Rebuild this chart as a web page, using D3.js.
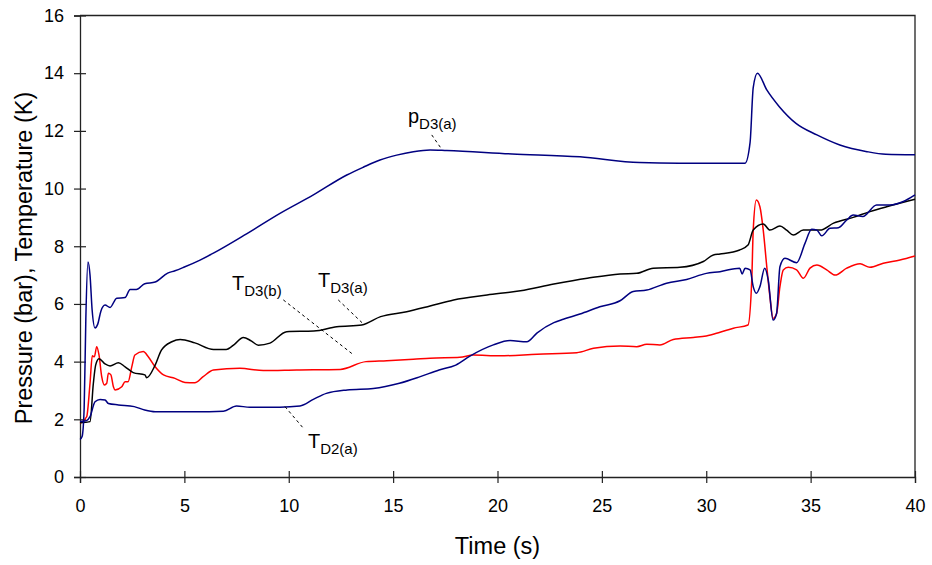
<!DOCTYPE html>
<html>
<head>
<meta charset="utf-8">
<script src="https://cdn.jsdelivr.net/npm/d3@7"></script>
<style>
  html, body { margin: 0; padding: 0; background: #fff; }
  svg text { font-family: Arial, "Liberation Sans", sans-serif; fill: #000; }
</style>
</head>
<body>
<svg id="chart" width="932" height="565"></svg>
<script>
// ==========================================================================
// DATA (time in s, value in bar / K)
// ==========================================================================

const xTicks = [0, 5, 10, 15, 20, 25, 30, 35, 40];
const yTicks = [0, 2, 4, 6, 8, 10, 12, 14, 16];

// pressure p_D3(a)
const pD3a = [
  [0, 1.3], [0.1, 1.4], [0.2, 2.4], [0.28, 5.5], [0.38, 7.45], [0.48, 7.0], [0.58, 5.8],
  [0.72, 5.17], [0.85, 5.3], [1.0, 5.75], [1.2, 5.96], [1.44, 5.88], [1.76, 6.2], [2.16, 6.22],
  [2.4, 6.5], [2.7, 6.5], [3.1, 6.7], [3.6, 6.76], [4.2, 7.07], [4.55, 7.15], [5.0, 7.28],
  [5.75, 7.52], [6.39, 7.76], [7.98, 8.43], [9.58, 9.14], [11.18, 9.78], [12.78, 10.47],
  [13.57, 10.74], [14.37, 10.99], [15.17, 11.16], [15.97, 11.28], [16.77, 11.34], [17.57, 11.32],
  [20.7, 11.2], [23.95, 11.1], [26.8, 10.9], [28.7, 10.88], [31.86, 10.88], [32.1, 11.6],
  [32.25, 13.5], [32.45, 14.0], [32.9, 13.42], [33.5, 12.84], [34.3, 12.26], [35.3, 11.86],
  [36.4, 11.51], [37.7, 11.28], [38.6, 11.19], [40, 11.17]
];

// temperature T_D2(a)
const tD2a = [
  [0, 1.92], [0.3, 1.95], [0.48, 2.09], [0.72, 2.61], [0.96, 2.69], [1.2, 2.67], [1.36, 2.55],
  [1.84, 2.5], [2.6, 2.44], [3.1, 2.32], [3.6, 2.26], [4.8, 2.26], [5.5, 2.26], [6.87, 2.28],
  [7.5, 2.46], [8.14, 2.42], [9.58, 2.42], [10.54, 2.46], [11.2, 2.7], [11.8, 2.9], [12.8, 3.02],
  [14.05, 3.07], [15.3, 3.25], [16.3, 3.48], [17.2, 3.71], [18.0, 3.88], [18.7, 4.2], [19.8, 4.58],
  [20.6, 4.73], [21.4, 4.69], [21.9, 5.0], [22.7, 5.35], [23.15, 5.47], [23.95, 5.65], [24.9, 5.9],
  [25.87, 6.11], [26.5, 6.43], [27.15, 6.48], [28.1, 6.72], [29.06, 6.85], [30.0, 7.06],
  [30.66, 7.12], [31.6, 7.24], [31.72, 7.04], [31.86, 7.24], [32.1, 7.18], [32.25, 6.6],
  [32.4, 6.37], [32.57, 6.6], [32.8, 7.24], [32.97, 6.83], [33.2, 5.44], [33.37, 5.67],
  [33.53, 7.29], [33.77, 7.58], [34.33, 7.43], [34.73, 8.1], [35.05, 8.59], [35.3, 8.56],
  [35.53, 8.36], [35.93, 8.62], [36.33, 8.64], [36.73, 8.91], [37.04, 9.08], [37.5, 9.03],
  [38.16, 9.43], [38.8, 9.43], [39.44, 9.55], [40, 9.78]
];

// temperature T_D3(a)
const tD3a = [
  [0, 1.88], [0.48, 1.92], [0.64, 3.25], [0.75, 3.88], [0.91, 4.1], [1.2, 3.92], [1.44, 3.85],
  [1.84, 3.96], [2.16, 3.82], [2.55, 3.62], [3.11, 3.54], [3.19, 3.44], [3.6, 3.88], [3.9, 4.4],
  [4.4, 4.69], [4.8, 4.77], [5.5, 4.65], [6.4, 4.42], [7.0, 4.42], [7.4, 4.6], [7.82, 4.84],
  [8.2, 4.72], [8.54, 4.57], [9.1, 4.64], [9.9, 5.04], [11.2, 5.06], [12.3, 5.21], [13.5, 5.27],
  [14.4, 5.56], [15.65, 5.73], [16.77, 5.93], [17.9, 6.14], [19.5, 6.31], [21.1, 6.46],
  [22.7, 6.69], [24.3, 6.89], [25.87, 7.04], [26.67, 7.06], [27.46, 7.24], [28.74, 7.27],
  [29.86, 7.47], [30.34, 7.7], [30.66, 7.73], [31.6, 7.87], [32.0, 8.04], [32.25, 8.56],
  [32.73, 8.77], [33.05, 8.56], [33.53, 8.7], [33.85, 8.56], [34.17, 8.39], [34.65, 8.56],
  [35.45, 8.56], [36.1, 8.8], [37.04, 9.0], [37.84, 9.2], [38.64, 9.37], [40, 9.63]
];

// temperature T_D3(b)
const tD3b = [
  [0, 1.86], [0.32, 2.09], [0.48, 3.25], [0.59, 4.2], [0.69, 4.17], [0.8, 4.52], [0.91, 4.23],
  [1.04, 3.48], [1.17, 3.19], [1.28, 3.25], [1.36, 3.6], [1.48, 3.54], [1.6, 3.13], [1.68, 3.02],
  [2.0, 3.13], [2.16, 3.3], [2.3, 3.3], [2.48, 3.82], [2.63, 4.23], [3.03, 4.35], [3.27, 4.17],
  [3.6, 3.82], [4.0, 3.54], [4.55, 3.42], [5.03, 3.28], [5.5, 3.27], [5.9, 3.48], [6.39, 3.71],
  [7.66, 3.77], [8.78, 3.69], [10.38, 3.71], [12.46, 3.73], [13.7, 4.0], [14.7, 4.03],
  [15.97, 4.08], [16.77, 4.12], [18.2, 4.15], [18.84, 4.23], [20.1, 4.2], [21.9, 4.26],
  [23.8, 4.31], [24.6, 4.46], [25.87, 4.54], [26.67, 4.52], [27.15, 4.6], [27.78, 4.58],
  [28.42, 4.77], [29.38, 4.84], [30.0, 4.89], [30.66, 5.02], [31.3, 5.16], [32.0, 5.27],
  [32.18, 6.83], [32.25, 8.56], [32.4, 9.6], [32.57, 9.37], [32.73, 8.56], [32.9, 7.29],
  [33.05, 6.25], [33.2, 5.5], [33.37, 5.67], [33.53, 6.6], [33.69, 7.18], [33.93, 7.27],
  [34.33, 7.18], [34.65, 6.89], [34.97, 7.24], [35.3, 7.35], [35.77, 7.18], [36.17, 7.0],
  [36.73, 7.24], [37.37, 7.39], [37.84, 7.27], [38.48, 7.41], [39.28, 7.52], [40, 7.66]
];

// curve labels: main letter, subscript, anchor (data coords), leader start/end
const curveLabels = [
  { main: 'p', sub: 'D3(a)', at: [15.71, 12.28], lead: [[16.85, 11.86], [17.33, 11.36]] },
  { main: 'T', sub: 'D3(b)', at: [7.28, 6.48], lead: [[9.74, 6.14], [13.06, 4.26]] },
  { main: 'T', sub: 'D3(a)', at: [11.4, 6.58], lead: [[12.37, 6.14], [13.54, 5.33]] },
  { main: 'T', sub: 'D2(a)', at: [10.92, 1.0], lead: [[9.82, 2.44], [10.7, 1.69]] }
];

// ==========================================================================
// DRAWING
// ==========================================================================

const svg = d3.select('#chart');
const margin = { top: 15.5, right: 17, bottom: 88, left: 80 };
const width = 932, height = 565;
const innerW = width - margin.left - margin.right;
const innerH = height - margin.top - margin.bottom;

const x = d3.scaleLinear().domain([0, 40]).range([0, innerW]);
const y = d3.scaleLinear().domain([0, 16]).range([innerH, 0]);

const g = svg.append('g').attr('transform', `translate(${margin.left},${margin.top})`);

// frame (top + right)
g.append('path')
  .attr('d', `M0,0H${innerW}V${innerH}`)
  .attr('fill', 'none').attr('stroke', '#222').attr('stroke-width', 1.3);

// axes with ticks crossing the line
const xAxis = g.append('g')
  .attr('transform', `translate(0,${innerH})`)
  .call(d3.axisBottom(x).tickValues(xTicks).tickSize(6).tickPadding(16));
xAxis.selectAll('.tick line').attr('y1', -6);

const yAxis = g.append('g')
  .call(d3.axisLeft(y).tickValues(yTicks).tickSize(6).tickPadding(10));
yAxis.selectAll('.tick line').attr('x1', 6);

[xAxis, yAxis].forEach(ax => {
  ax.select('.domain').attr('stroke', '#222').attr('stroke-width', 1.3);
  ax.selectAll('.tick line').attr('stroke', '#222').attr('stroke-width', 1.2);
  ax.selectAll('text')
    .style('font-family', 'Arial, "Liberation Sans", sans-serif')
    .style('font-size', '18px').attr('fill', '#000');
});

// series
const line = d3.line()
  .x(d => x(d[0]))
  .y(d => y(d[1]))
  .curve(d3.curveMonotoneX);

const series = [
  { data: tD3b, color: '#ff0000' },
  { data: tD3a, color: '#000000' },
  { data: tD2a, color: '#000080' },
  { data: pD3a, color: '#000080' }
];

g.selectAll('.series')
  .data(series)
  .enter().append('path')
  .attr('class', 'series')
  .attr('d', d => line(d.data))
  .attr('fill', 'none')
  .attr('stroke', d => d.color)
  .attr('stroke-width', 1.5)
  .attr('stroke-linejoin', 'round');

// curve labels with dashed leaders
curveLabels.forEach(l => {
  g.append('line')
    .attr('x1', x(l.lead[0][0])).attr('y1', y(l.lead[0][1]))
    .attr('x2', x(l.lead[1][0])).attr('y2', y(l.lead[1][1]))
    .attr('stroke', '#000').attr('stroke-width', 1)
    .attr('stroke-dasharray', '3,3');

  const t = g.append('text')
    .attr('x', x(l.at[0])).attr('y', y(l.at[1]))
    .style('font-size', '20px');
  t.append('tspan').text(l.main);
  t.append('tspan').attr('dy', 6).style('font-size', '15px').text(l.sub);
});

// axis titles
svg.append('text')
  .attr('x', margin.left + innerW / 2).attr('y', 554)
  .attr('text-anchor', 'middle')
  .style('font-size', '23.5px')
  .text('Time (s)');

svg.append('text')
  .attr('transform', 'translate(32,258) rotate(-90)')
  .attr('text-anchor', 'middle')
  .style('font-size', '23.5px')
  .text('Pressure (bar), Temperature (K)');
</script>
</body>
</html>
